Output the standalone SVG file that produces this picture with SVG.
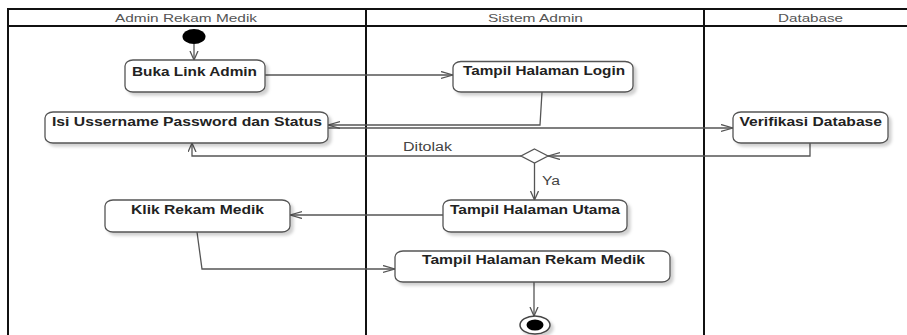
<svg xmlns="http://www.w3.org/2000/svg" width="907" height="335" viewBox="0 0 907 335">
  <style>
    .lane { stroke: #111; stroke-width: 2; fill: none; }
    .hdr { font-family: "Liberation Sans", Arial, sans-serif; font-size: 11.5px; fill: #555; }
    .act rect { fill: #fff; stroke: #555; stroke-width: 1.3; filter: url(#shadow); }
    .act text { font-family: "Liberation Sans", Arial, sans-serif; font-size: 12.5px; font-weight: bold; fill: #222; }
    .edge { fill: none; stroke: #555; stroke-width: 1.3; }
    .lbl { font-family: "Liberation Sans", Arial, sans-serif; font-size: 12px; fill: #444; }
  </style>
  <defs>
    <filter id="shadow" x="-10%" y="-20%" width="130%" height="160%">
      <feDropShadow dx="3" dy="3" stdDeviation="1.5" flood-color="#000" flood-opacity="0.18"/>
    </filter>
    <marker id="arrH" markerUnits="userSpaceOnUse" markerWidth="14" markerHeight="10" refX="12" refY="4" orient="auto">
      <path d="M0,0.5 L12,4 L0,7.5" fill="none" stroke="#555" stroke-width="1.3"/>
    </marker>
    <marker id="arrV" markerUnits="userSpaceOnUse" markerWidth="12" markerHeight="10" refX="9" refY="4.5" orient="auto">
      <path d="M0,0.5 L9,4.5 L0,8.5" fill="none" stroke="#555" stroke-width="1.3"/>
    </marker>
  </defs>

  <rect width="907" height="335" fill="#fff"/>

  <!-- swimlanes -->
  <g id="lanes">
    <line class="lane" x1="8" y1="9" x2="907" y2="9"/>
    <line class="lane" x1="8" y1="26" x2="907" y2="26" stroke-width="1.6"/>
    <line class="lane" x1="8" y1="8" x2="8" y2="335"/>
    <line class="lane" x1="366" y1="8" x2="366" y2="335"/>
    <line class="lane" x1="704" y1="8" x2="704" y2="335"/>
    <text class="hdr" x="115" y="21.5" textLength="142" lengthAdjust="spacingAndGlyphs">Admin Rekam Medik</text>
    <text class="hdr" x="488" y="21.5" textLength="95" lengthAdjust="spacingAndGlyphs">Sistem Admin</text>
    <text class="hdr" x="778" y="21.5" textLength="65" lengthAdjust="spacingAndGlyphs">Database</text>
  </g>

  <!-- connectors -->
  <g id="connectors">
    <path class="edge" d="M194,44 L194,60" marker-end="url(#arrV)"/>
    <path class="edge" d="M265,75 L453,75" marker-end="url(#arrH)"/>
    <path class="edge" d="M542,92 L540,125 L328,125" marker-end="url(#arrH)"/>
    <path class="edge" d="M328,128 L733,128" marker-end="url(#arrH)"/>
    <path class="edge" d="M810,143 L810,156 L548,156" marker-end="url(#arrH)"/>
    <path class="edge" d="M521,156 L192,156 L192,143" marker-end="url(#arrV)"/>
    <path class="edge" d="M534.5,163 L534.5,200" marker-end="url(#arrV)"/>
    <path class="edge" d="M443,215 L290,215" marker-end="url(#arrH)"/>
    <path class="edge" d="M197,232 L202,269 L395,269" marker-end="url(#arrH)"/>
    <path class="edge" d="M534,282 L534,316" marker-end="url(#arrV)"/>
    <text class="lbl" x="403" y="150.5" textLength="49" lengthAdjust="spacingAndGlyphs">Ditolak</text>
    <text class="lbl" x="542" y="185" textLength="18" lengthAdjust="spacingAndGlyphs">Ya</text>
  </g>

  <!-- start -->
  <g id="start">
    <ellipse cx="194" cy="36.5" rx="11.5" ry="7.5" fill="#000"/>
  </g>

  <g id="buka-link-admin" class="act">
    <rect x="125" y="60" width="140" height="32" rx="8" ry="6"/>
    <text x="132" y="76" textLength="125" lengthAdjust="spacingAndGlyphs">Buka Link Admin</text>
  </g>

  <g id="tampil-halaman-login" class="act">
    <rect x="453" y="61.5" width="180" height="30.5" rx="8" ry="6"/>
    <text x="463" y="75" textLength="162" lengthAdjust="spacingAndGlyphs">Tampil Halaman Login</text>
  </g>

  <g id="isi-username" class="act">
    <rect x="45" y="112" width="283" height="31" rx="8" ry="6"/>
    <text x="52" y="126" textLength="270" lengthAdjust="spacingAndGlyphs">Isi Ussername Password dan Status</text>
  </g>

  <g id="verifikasi-database" class="act">
    <rect x="733" y="112" width="155" height="31" rx="8" ry="6"/>
    <text x="739.5" y="126" textLength="142.5" lengthAdjust="spacingAndGlyphs">Verifikasi Database</text>
  </g>

  <g id="decision">
    <polygon points="534.5,149 548,156 534.5,163 521,156" fill="#fff" stroke="#555" stroke-width="1.3"/>
  </g>

  <g id="klik-rekam-medik" class="act">
    <rect x="105" y="200" width="185" height="32" rx="8" ry="6"/>
    <text x="131" y="214" textLength="133" lengthAdjust="spacingAndGlyphs">Klik Rekam Medik</text>
  </g>

  <g id="tampil-halaman-utama" class="act">
    <rect x="443" y="200" width="184" height="32" rx="8" ry="6"/>
    <text x="450" y="214" textLength="170" lengthAdjust="spacingAndGlyphs">Tampil Halaman Utama</text>
  </g>

  <g id="tampil-halaman-rekam-medik" class="act">
    <rect x="395" y="251" width="275" height="31" rx="8" ry="6"/>
    <text x="422" y="264" textLength="223" lengthAdjust="spacingAndGlyphs">Tampil Halaman Rekam Medik</text>
  </g>

  <!-- end -->
  <g id="end">
    <ellipse cx="535" cy="325" rx="15" ry="9" fill="#fff" stroke="#444" stroke-width="1.5" filter="url(#shadow)"/>
    <ellipse cx="535" cy="325" rx="8.5" ry="5.5" fill="#000"/>
  </g>
</svg>
